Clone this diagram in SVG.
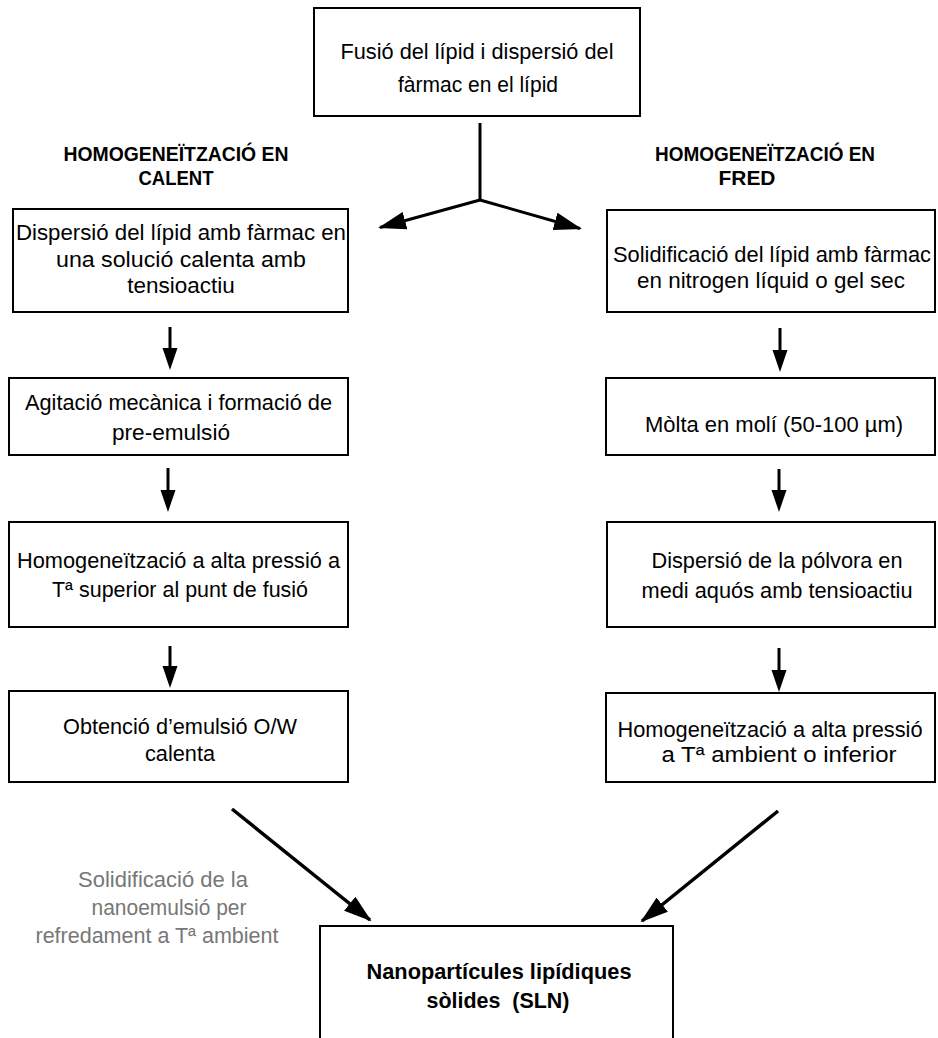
<svg xmlns="http://www.w3.org/2000/svg" width="938" height="1038" viewBox="0 0 938 1038">
<style>
  .box { fill: #fff; stroke: #000; stroke-width: 2; }
  .t { font-family: "Liberation Sans", Arial, sans-serif; font-size: 22.5px; fill: #000; text-anchor: middle; }
  .s { font-size: 22px; }
  .h { font-family: "Liberation Sans", Arial, sans-serif; font-size: 20px; font-weight: bold; fill: #000; text-anchor: middle; }
  .b { font-family: "Liberation Sans", Arial, sans-serif; font-size: 22.5px; font-weight: bold; fill: #000; text-anchor: middle; }
  .g { font-family: "Liberation Sans", Arial, sans-serif; font-size: 22.5px; fill: #777; text-anchor: middle; }
  .c { fill: none; stroke: #000; stroke-width: 3; }
  .cd { fill: none; stroke: #000; stroke-width: 3.5; }
</style>
<defs>
  <marker id="ad" markerUnits="userSpaceOnUse" markerWidth="28" markerHeight="18" refX="26" refY="9" orient="auto" viewBox="0 0 28 18">
    <path d="M0,0 L28,9 L0,18 z" fill="#000"/>
  </marker>
</defs>

<g id="connectors">
  <line class="c" x1="480" y1="123" x2="480" y2="201"/>
  <line class="c" x1="480" y1="200" x2="380" y2="227.5" marker-end="url(#ad)"/>
  <line class="c" x1="480" y1="200" x2="580" y2="228.5" marker-end="url(#ad)"/>
  <path class="c" d="M170,327 V350" /><path d="M162.5,348 L177.5,348 L170,370 z" fill="#000"/>
  <path class="c" d="M168,468 V492" /><path d="M160.5,490 L175.5,490 L168,512 z" fill="#000"/>
  <path class="c" d="M170,646 V668" /><path d="M162.5,666 L177.5,666 L170,688 z" fill="#000"/>
  <path class="c" d="M780,328 V352" /><path d="M772.5,350 L787.5,350 L780,372 z" fill="#000"/>
  <path class="c" d="M779,469 V492" /><path d="M771.5,490 L786.5,490 L779,512 z" fill="#000"/>
  <path class="c" d="M779,648 V672" /><path d="M771.5,670 L786.5,670 L779,692 z" fill="#000"/>
  <line class="cd" x1="232" y1="809" x2="370" y2="920" marker-end="url(#ad)"/>
  <line class="cd" x1="778" y1="811" x2="642" y2="921" marker-end="url(#ad)"/>
</g>

<g id="node-top">
  <rect class="box" x="314" y="8" width="326" height="108"/>
  <text class="t" x="477" y="59" textLength="273" lengthAdjust="spacingAndGlyphs">Fusió del lípid i dispersió del</text>
  <text class="t" x="478" y="92" textLength="160" lengthAdjust="spacingAndGlyphs">fàrmac en el lípid</text>
</g>

<g id="heading-hot">
  <text class="h" x="176" y="161" textLength="225" lengthAdjust="spacingAndGlyphs">HOMOGENEÏTZACIÓ EN</text>
  <text class="h" x="176" y="185" textLength="75" lengthAdjust="spacingAndGlyphs">CALENT</text>
</g>

<g id="heading-cold">
  <text class="h" x="765" y="161" textLength="220" lengthAdjust="spacingAndGlyphs">HOMOGENEÏTZACIÓ EN</text>
  <text class="h" x="747" y="185" textLength="57" lengthAdjust="spacingAndGlyphs">FRED</text>
</g>

<g id="node-l1">
  <rect class="box" x="13" y="209" width="335" height="103"/>
  <text class="t" x="181" y="240" textLength="330" lengthAdjust="spacingAndGlyphs">Dispersió del lípid amb fàrmac en</text>
  <text class="t" x="181" y="267" textLength="250" lengthAdjust="spacingAndGlyphs">una solució calenta amb</text>
  <text class="t" x="181" y="293">tensioactiu</text>
</g>

<g id="node-l2">
  <rect class="box" x="9" y="378" width="339" height="77"/>
  <text class="t" x="178.5" y="410" textLength="307" lengthAdjust="spacingAndGlyphs">Agitació mecànica i formació de</text>
  <text class="t" x="171" y="440" textLength="118" lengthAdjust="spacingAndGlyphs">pre-emulsió</text>
</g>

<g id="node-l3">
  <rect class="box" x="9" y="522" width="339" height="105"/>
  <text class="t" x="178.5" y="568" textLength="323" lengthAdjust="spacingAndGlyphs">Homogeneïtzació a alta pressió a</text>
  <text class="t" x="180" y="597" textLength="256" lengthAdjust="spacingAndGlyphs">Tª superior al punt de fusió</text>
</g>

<g id="node-l4">
  <rect class="box" x="9" y="691" width="339" height="91"/>
  <text class="t" x="180" y="734" textLength="234" lengthAdjust="spacingAndGlyphs">Obtenció d’emulsió O/W</text>
  <text class="t" x="180" y="761" textLength="70" lengthAdjust="spacingAndGlyphs">calenta</text>
</g>

<g id="node-r1">
  <rect class="box" x="607" y="210" width="328" height="102"/>
  <text class="t s" x="772" y="262" textLength="318" lengthAdjust="spacingAndGlyphs">Solidificació del lípid amb fàrmac</text>
  <text class="t" x="771" y="288" textLength="268" lengthAdjust="spacingAndGlyphs">en nitrogen líquid o gel sec</text>
</g>

<g id="node-r2">
  <rect class="box" x="606" y="378" width="329" height="77"/>
  <text class="t" x="774" y="432" textLength="258" lengthAdjust="spacingAndGlyphs">Mòlta en molí (50-100 µm)</text>
</g>

<g id="node-r3">
  <rect class="box" x="607" y="522" width="328" height="105"/>
  <text class="t" x="777" y="568" textLength="251" lengthAdjust="spacingAndGlyphs">Dispersió de la pólvora en</text>
  <text class="t" x="777" y="598" textLength="271" lengthAdjust="spacingAndGlyphs">medi aquós amb tensioactiu</text>
</g>

<g id="node-r4">
  <rect class="box" x="606" y="693" width="329" height="89"/>
  <text class="t" x="770" y="737" textLength="305" lengthAdjust="spacingAndGlyphs">Homogeneïtzació a alta pressió</text>
  <text class="t" x="779" y="762" textLength="235" lengthAdjust="spacingAndGlyphs">a Tª ambient o inferior</text>
</g>

<g id="label-cooling">
  <text class="g" x="163" y="887" textLength="170" lengthAdjust="spacingAndGlyphs">Solidificació de la</text>
  <text class="g" x="169" y="915" textLength="155" lengthAdjust="spacingAndGlyphs">nanoemulsió per</text>
  <text class="g" x="157" y="943" textLength="243" lengthAdjust="spacingAndGlyphs">refredament a Tª ambient</text>
</g>

<g id="node-final">
  <rect class="box" x="320" y="926" width="353" height="140"/>
  <text class="b" x="499" y="979" textLength="265" lengthAdjust="spacingAndGlyphs">Nanopartícules lipídiques</text>
  <text class="b" x="498" y="1008" xml:space="preserve" textLength="143" lengthAdjust="spacingAndGlyphs">sòlides  (SLN)</text>
</g>
</svg>
